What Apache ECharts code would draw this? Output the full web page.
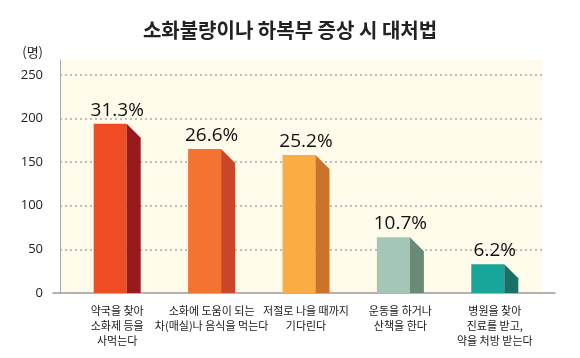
<!DOCTYPE html>
<html>
<head>
<meta charset="utf-8">
<script src="https://cdn.jsdelivr.net/npm/echarts@6/dist/echarts.min.js"></script>
<style>
  html, body { margin: 0; padding: 0; background: #ffffff; }
  #chart { width: 580px; height: 358px; }
</style>
</head>
<body>
<div id="chart"></div>
<script>
// ---- data ----
var titleText = '소화불량이나 하복부 증상 시 대처법';
var unitLabel = '(명)';
var categories = [
  '약국을 찾아\n소화제 등을\n사먹는다',
  '소화에 도움이 되는\n차(매실)나 음식을 먹는다',
  '저절로 나을 때까지\n기다린다',
  '운동을 하거나\n산책을 한다',
  '병원을 찾아\n진료를 받고,\n약을 처방 받는다'
];
var counts = [194, 165, 158, 64, 33];
var percentLabels = ['31.3%', '26.6%', '25.2%', '10.7%', '6.2%'];
var yTicks = [0, 50, 100, 150, 200, 250];

// ---- styles ----
var frontColors = ['#ef4c23', '#f47330', '#fbac42', '#a3c6b6', '#17a699'];
var sideColors  = ['#961b1e', '#c9462a', '#c9742a', '#6a8a78', '#1c6f66'];
var yMax = 267;

var chart = echarts.init(document.getElementById('chart'), null, { renderer: 'canvas' });

var option = {
  backgroundColor: '#ffffff',
  animation: false,
  title: {
    text: titleText,
    left: 'center',
    top: 15,
    textStyle: { fontFamily: 'Noto Sans CJK KR', fontSize: 20, fontWeight: 'bold', color: '#222222' }
  },
  grid: [
    { left: 60, right: 38, top: 60, bottom: 65, show: true, backgroundColor: '#fefbea', borderWidth: 0 },
    { left: 70, right: 38, top: 60, bottom: 65 },
    { left: 53, right: 25, top: 60, bottom: 65 }
  ],
  xAxis: [
    { gridIndex: 0, type: 'category', data: categories, show: false },
    {
      gridIndex: 1, type: 'category', data: categories,
      axisLine: { show: false }, axisTick: { show: false },
      axisLabel: {
        interval: 0, margin: 10, color: '#1a1a1a',
        fontFamily: 'Noto Sans CJK KR', fontSize: 11, lineHeight: 15
      }
    },
    {
      gridIndex: 2, type: 'category', data: [''],
      axisLine: { show: true, lineStyle: { color: '#9a9a9a', width: 1.5 } },
      axisTick: { show: false }, axisLabel: { show: false }
    }
  ],
  yAxis: [
    {
      gridIndex: 0, type: 'value', min: 0, max: yMax, interval: 50,
      name: unitLabel, nameLocation: 'end', nameGap: 1,
      nameTextStyle: { fontFamily: 'Noto Sans CJK KR', fontSize: 13, color: '#222222', align: 'right', padding: [0, 17, 0, 0] },
      axisLine: { show: true, lineStyle: { color: '#a8a8a8', width: 1 } },
      axisTick: { show: false },
      axisLabel: {
        margin: 17, color: '#222222', fontFamily: 'Open Sans', fontSize: 13,
        showMaxLabel: false,
        formatter: function (v) { return yTicks.indexOf(v) >= 0 ? String(v) : ''; }
      },
      splitLine: {
        show: true, showMaxLine: false, showMinLine: false,
        lineStyle: { color: '#bdbdbd', type: [2, 3], width: 2 }
      }
    },
    { gridIndex: 1, type: 'value', min: 0, max: yMax, show: false },
    { gridIndex: 2, type: 'value', min: 0, max: yMax, show: false }
  ],
  series: [
    {
      type: 'custom',
      xAxisIndex: 1, yAxisIndex: 1,
      data: counts.map(function (v, i) { return [i, v]; }),
      renderItem: function (params, api) {
        var i = params.dataIndex;
        var base = api.coord([api.value(0), 0]);
        var top = api.coord([api.value(0), api.value(1)]);
        var cx = top[0];
        var frontW = 33, sideW = 14;
        var x0 = cx - (frontW + sideW) / 2;
        return {
          type: 'group',
          children: [
            {
              type: 'rect',
              shape: { x: x0, y: top[1], width: frontW, height: base[1] - top[1] },
              style: { fill: frontColors[i] }
            },
            {
              type: 'polygon',
              shape: { points: [
                [x0 + frontW, top[1]],
                [x0 + frontW + sideW, top[1] + sideW],
                [x0 + frontW + sideW, base[1]],
                [x0 + frontW, base[1]]
              ] },
              style: { fill: sideColors[i] }
            },
            {
              type: 'text',
              style: {
                text: percentLabels[i], x: cx, y: top[1] - 4,
                align: 'center', verticalAlign: 'bottom',
                fontFamily: 'Open Sans', fontSize: 19, fill: '#111111'
              }
            }
          ]
        };
      }
    }
  ]
};
chart.setOption(option);
</script>
</body>
</html>
